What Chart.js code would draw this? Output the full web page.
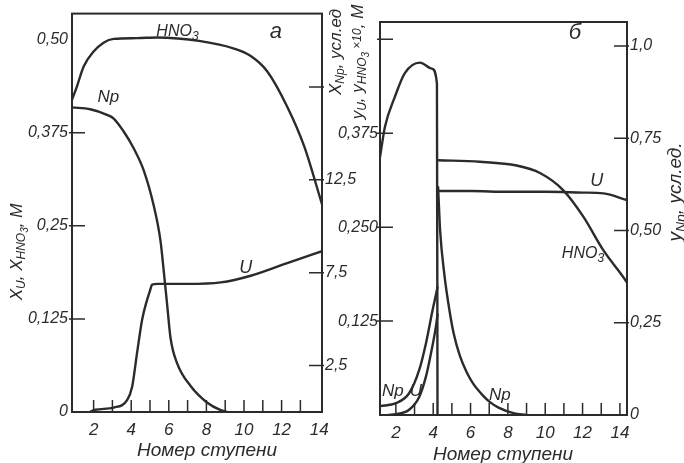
<!DOCTYPE html>
<html>
<head>
<meta charset="utf-8">
<script src="https://cdn.jsdelivr.net/npm/chart.js@4.4.1/dist/chart.umd.min.js"></script>
<style>
  html, body { margin: 0; padding: 0; background: #fff; }
  #wrap { position: relative; width: 684px; height: 463px; }
  canvas { position: absolute; left: 0; top: 0; }
</style>
</head>
<body>
<div id="wrap">
  <canvas id="panelA" width="684" height="463"></canvas>
  <canvas id="panelB" width="684" height="463"></canvas>
</div>
<script>
// ---------- panel а (aqueous phase) ----------
// X_HNO3, M (left axis)
const aHno3Stage = [0.86, 1.11, 1.47, 2.0, 2.53, 3.07, 4.31, 5.38, 7.69, 9.47, 10.36, 11.25, 12.3, 13.2, 14.15];
const aHno3Conc  = [0.420, 0.437, 0.464, 0.484, 0.496, 0.501, 0.502, 0.503, 0.498, 0.488, 0.478, 0.457, 0.410, 0.357, 0.279];
// X_Np, усл.ед (right axis)
const aNpStage = [0.86, 1.82, 2.71, 3.07, 3.6, 4.13, 4.67, 5.2, 5.56, 5.73, 5.91, 6.09, 6.45, 7.16, 8.05, 8.76, 9.1];
const aNpConc  = [16.4, 16.3, 16.0, 15.8, 15.1, 14.2, 13.0, 11.1, 9.2, 7.6, 5.8, 4.0, 2.6, 1.4, 0.5, 0.1, 0];
// X_U, M (left axis)
const aUStage = [1.8, 2.09, 3.07, 3.78, 4.05, 4.31, 4.58, 4.85, 5.0, 5.11, 5.4, 7.0, 8.76, 10.36, 12.3, 14.15];
const aUConc  = [0, 0.003, 0.006, 0.016, 0.034, 0.079, 0.124, 0.151, 0.163, 0.171, 0.172, 0.172, 0.174, 0.183, 0.200, 0.216];

// ---------- panel б (organic phase) ----------
// y_HNO3 x10, M (left axis) - before and after the feed stage
const bHno3StageL = [1.15, 1.41, 1.94, 2.48, 3.29, 3.93, 4.2, 4.23];
const bHno3ConcL  = [0.343, 0.383, 0.423, 0.455, 0.469, 0.461, 0.441, 0];
const bHno3StageR = [4.26, 6.5, 8.47, 9.72, 10.97, 12.04, 13.12, 14.28, 14.38];
const bHno3ConcR  = [0.339, 0.337, 0.332, 0.322, 0.299, 0.264, 0.219, 0.180, 0.176];
// y_U, M (left axis)
const bUStageL = [1.6, 2.0, 2.71, 3.25, 3.61, 3.88, 4.14, 4.24];
const bUConcL  = [0, 0.001, 0.007, 0.024, 0.051, 0.082, 0.117, 0.135];
const bUStageR = [4.25, 6, 8, 10, 12, 13.12, 14.38];
const bUConcR  = [0.298, 0.298, 0.297, 0.297, 0.296, 0.295, 0.286];
// y_Np, усл.ед. (right axis)
const bNpStageL = [1.15, 2.0, 2.71, 3.25, 3.61, 3.97, 4.24];
const bNpConcL  = [0.024, 0.032, 0.059, 0.122, 0.194, 0.285, 0.348];
const bNpStageR = [4.26, 4.37, 4.6, 4.85, 5.1, 5.43, 5.8, 6.14, 6.68, 7.04, 7.5, 8.3, 9.0];
const bNpConcR  = [0.62, 0.50, 0.38, 0.29, 0.22, 0.16, 0.115, 0.085, 0.052, 0.035, 0.02, 0.005, 0];

// ---------- ticks ----------
const stageLabels = [2, 3, 4, 5, 6, 7, 8, 9, 10, 11, 12, 13, 14];
const aStageMarks = [2, 3, 4, 5, 6, 7, 8, 9, 10, 11, 12, 13];
const bStageMarks = [2, 3, 4, 5, 6, 7, 8, 9, 10, 11, 12, 13, 14];
const aLeftTicks = [0, 0.125, 0.25, 0.375, 0.5];
const aLeftLabels = ['0', '0,125', '0,25', '0,375', '0,50'];
const aRightTicks = [2.5, 7.5, 12.5, 17.5];
const aRightLabels = ['2,5', '7,5', '12,5', ''];
const bLeftTicks = [0.125, 0.25, 0.375, 0.5];
const bLeftLabels = ['0,125', '0,250', '0,375', ''];
const bRightTicks = [0, 0.25, 0.5, 0.75, 1.0];
const bRightLabels = ['0', '0,25', '0,50', '0,75', '1,0'];

const INK = '#2b2b2b';
const FAMILY = "'Liberation Sans Narrow', 'Liberation Sans', sans-serif";

function pts(xs, ys) {
    return xs.map((x, i) => ({ x: x, y: ys[i] }));
}

function line(label, xs, ys, axis) {
    return {
        label: label,
        data: pts(xs, ys),
        yAxisID: axis,
        borderColor: INK,
        borderWidth: 2.4,
        pointRadius: 0,
        fill: false,
        cubicInterpolationMode: 'monotone'
    };
}

// text with subscripts: parts = [[text, level]], level 0 normal, 1 sub, 2 sub of sub, 3 small
function richFont(size, level) {
    const k = [1, 0.72, 0.6, 0.72][level];
    return 'italic ' + Math.round(size * k) + 'px ' + FAMILY;
}
function richShift(size, level) {
    return [0, 0.3, 0.48, 0][level] * size;
}
function drawRich(ctx, parts, x, y, size, rot) {
    ctx.save();
    ctx.translate(x, y);
    if (rot) ctx.rotate(rot * Math.PI / 180);
    ctx.textBaseline = 'middle';
    ctx.textAlign = 'left';
    ctx.fillStyle = INK;
    let w = 0;
    parts.forEach(p => { ctx.font = richFont(size, p[1]); w += ctx.measureText(p[0]).width; });
    let cx = -w / 2;
    parts.forEach(p => {
        ctx.font = richFont(size, p[1]);
        ctx.fillText(p[0], cx, richShift(size, p[1]));
        cx += ctx.measureText(p[0]).width;
    });
    ctx.restore();
}

function decor(cfg) {
    return {
        id: 'decor',
        afterDatasetsDraw(chart) {
            const ctx = chart.ctx;
            const a = chart.chartArea;
            ctx.save();
            ctx.strokeStyle = INK;
            ctx.lineWidth = 2;
            ctx.strokeRect(a.left, a.top, a.right - a.left, a.bottom - a.top);
            ctx.lineWidth = 1.5;
            ctx.beginPath();
            cfg.marks.x.forEach(v => {
                const px = chart.scales.x.getPixelForValue(v);
                ctx.moveTo(px, a.bottom); ctx.lineTo(px, a.bottom - 12);
            });
            cfg.marks.y.forEach(v => {
                const py = chart.scales.y.getPixelForValue(v);
                ctx.moveTo(a.left - 3, py); ctx.lineTo(a.left + 13, py);
            });
            cfg.marks.y1.forEach(v => {
                const py = chart.scales.y1.getPixelForValue(v);
                ctx.moveTo(a.right + 2, py); ctx.lineTo(a.right - 13, py);
            });
            ctx.stroke();
            ctx.restore();
            cfg.notes.forEach(n => {
                const sx = chart.scales.x.getPixelForValue(n.x);
                const sy = chart.scales[n.axis || 'y'].getPixelForValue(n.y);
                drawRich(ctx, n.parts, sx, sy, n.size, 0);
            });
            cfg.titles.forEach(t => drawRich(ctx, t.parts, t.px, t.py, t.size, t.rot));
        }
    };
}

function axisX(min, max, ticks, h) {
    return {
        type: 'linear', min: min, max: max,
        afterBuildTicks: s => { s.ticks = ticks.map(v => ({ value: v })); },
        afterFit: s => { s.height = h; },
        grid: { display: false, drawTicks: false },
        border: { display: false },
        ticks: {
            autoSkip: false, maxRotation: 0, padding: 8, color: INK,
            font: { family: FAMILY, style: 'italic', size: 17 },
            callback: v => (v % 2 === 0 ? String(v) : '')
        }
    };
}

function axisY(pos, min, max, ticks, labels, w, pad) {
    return {
        type: 'linear', position: pos, min: min, max: max,
        afterBuildTicks: s => { s.ticks = ticks.map(v => ({ value: v })); },
        afterFit: s => { s.width = w; },
        grid: { display: false, drawTicks: false },
        border: { display: false },
        ticks: {
            padding: pad, color: INK,
            font: { family: FAMILY, style: 'italic', size: 16 },
            callback: (v, i) => labels[i]
        }
    };
}

function baseOptions(padding, scales) {
    return {
        responsive: false,
        animation: false,
        devicePixelRatio: 1,
        layout: { padding: padding },
        plugins: { legend: { display: false }, tooltip: { enabled: false } },
        scales: scales
    };
}

// panel а: plot area 72..322 x 13..412
new Chart(document.getElementById('panelA').getContext('2d'), {
    type: 'line',
    data: {
        datasets: [
            line('HNO3', aHno3Stage, aHno3Conc, 'y'),
            line('Np', aNpStage, aNpConc, 'y1'),
            line('U', aUStage, aUConc, 'y')
        ]
    },
    options: baseOptions({ left: 0, right: 312, top: 13, bottom: 11 }, {
        x: axisX(0.85, 14.15, stageLabels, 40),
        y: axisY('left', 0, 0.535, aLeftTicks, aLeftLabels, 72, 4),
        y1: axisY('right', 0, 21.45, aRightTicks, aRightLabels, 50, 3)
    }),
    plugins: [decor({
        marks: { x: aStageMarks, y: [0.125, 0.25, 0.375], y1: aRightTicks },
        notes: [
            { parts: [['HNO', 0], ['3', 1]], x: 6.46, y: 0.511, size: 16 },
            { parts: [['Np', 0]], x: 2.78, y: 0.422, size: 17 },
            { parts: [['U', 0]], x: 10.1, y: 0.194, size: 18 },
            { parts: [['а', 0]], x: 11.7, y: 0.511, size: 22 }
        ],
        titles: [
            { parts: [['Номер ступени', 0]], px: 207, py: 451, size: 19, rot: 0 },
            { parts: [['X', 0], ['U', 1], [', X', 0], ['HNO', 1], ['3', 2], [', M', 0]], px: 17, py: 252, size: 17, rot: -90 },
            { parts: [['X', 0], ['Np', 1], [', усл.ед', 0]], px: 336, py: 52, size: 17, rot: -90 }
        ]
    })]
});

// panel б: plot area 380..627 x 22..415
new Chart(document.getElementById('panelB').getContext('2d'), {
    type: 'line',
    data: {
        datasets: [
            line('HNO3 (1-4)', bHno3StageL, bHno3ConcL, 'y'),
            line('HNO3', bHno3StageR, bHno3ConcR, 'y'),
            line('U (1-4)', bUStageL, bUConcL, 'y'),
            line('U', bUStageR, bUConcR, 'y'),
            line('Np (1-4)', bNpStageL, bNpConcL, 'y1'),
            line('Np', bNpStageR, bNpConcR, 'y1')
        ]
    },
    options: baseOptions({ left: 0, right: 12, top: 22, bottom: 8 }, {
        x: axisX(1.15, 14.38, stageLabels, 40),
        y: axisY('left', 0, 0.523, bLeftTicks, bLeftLabels, 380, 2),
        y1: axisY('right', 0, 1.065, bRightTicks, bRightLabels, 45, 3)
    }),
    plugins: [decor({
        marks: { x: bStageMarks, y: bLeftTicks, y1: [0.25, 0.5, 0.75, 1.0] },
        notes: [
            { parts: [['б', 0]], x: 11.59, y: 0.509, size: 22 },
            { parts: [['U', 0]], x: 12.76, y: 0.312, size: 18 },
            { parts: [['HNO', 0], ['3', 1]], x: 12.02, y: 0.215, size: 16 },
            { parts: [['Np', 0]], x: 7.57, y: 0.026, size: 17 },
            { parts: [['Np', 0]], x: 1.84, y: 0.031, size: 17 },
            { parts: [['U', 0]], x: 3.07, y: 0.031, size: 17 }
        ],
        titles: [
            { parts: [['Номер ступени', 0]], px: 503, py: 455, size: 19, rot: 0 },
            { parts: [['y', 0], ['U', 1], [', y', 0], ['HNO', 1], ['3', 2], [' ×10', 3], [', M', 0]], px: 358, py: 62, size: 17, rot: -90 },
            { parts: [['y', 0], ['Np', 1], [', усл.ед.', 0]], px: 676, py: 192, size: 19, rot: -90 }
        ]
    })]
});
</script>
</body>
</html>
